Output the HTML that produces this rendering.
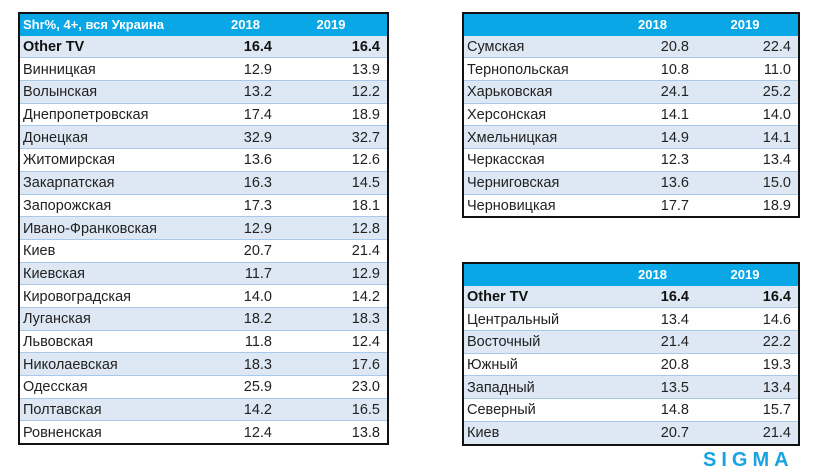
<!DOCTYPE html>
<html><head><meta charset="utf-8"><style>
body{margin:0;width:820px;height:476px;background:#fff;position:relative;overflow:hidden;font-family:"Liberation Sans","DejaVu Sans",sans-serif;}
table{position:absolute;border-collapse:collapse;border:2px solid #111;table-layout:fixed;}
td{height:19.7px;padding:2px 7px 0 3px;font-size:14.5px;color:#222;border-bottom:1px solid #a9c9e8;white-space:nowrap;overflow:hidden;line-height:19px;vertical-align:middle}
td.n{text-align:right}
tr.h td{background:#0aa7e6;color:#fff;font-weight:bold;font-size:13px;border-bottom:none;padding-top:0;height:21.7px}
tr.h td.y{text-align:center}
tr.s td{background:#dde8f4}
tr.b td{font-weight:bold;color:#111}
#logo{position:absolute;left:703px;top:449px;font-size:20px;font-weight:bold;color:#1aa3e3;letter-spacing:5px}
</style></head><body>
<table style="left:18px;top:12px;width:369px">
<colgroup><col style="width:190px"><col style="width:70px"><col style="width:109px"></colgroup>
<tr class="h"><td>Shr%, 4+, вся Украина</td><td class="y" style="padding-left:10px">2018</td><td class="y">2019</td></tr>
<tr class="s b"><td>Other TV</td><td class="n">16.4</td><td class="n">16.4</td></tr>
<tr><td>Винницкая</td><td class="n">12.9</td><td class="n">13.9</td></tr>
<tr class="s"><td>Волынская</td><td class="n">13.2</td><td class="n">12.2</td></tr>
<tr><td>Днепропетровская</td><td class="n">17.4</td><td class="n">18.9</td></tr>
<tr class="s"><td>Донецкая</td><td class="n">32.9</td><td class="n">32.7</td></tr>
<tr><td>Житомирская</td><td class="n">13.6</td><td class="n">12.6</td></tr>
<tr class="s"><td>Закарпатская</td><td class="n">16.3</td><td class="n">14.5</td></tr>
<tr><td>Запорожская</td><td class="n">17.3</td><td class="n">18.1</td></tr>
<tr class="s"><td>Ивано-Франковская</td><td class="n">12.9</td><td class="n">12.8</td></tr>
<tr><td>Киев</td><td class="n">20.7</td><td class="n">21.4</td></tr>
<tr class="s"><td>Киевская</td><td class="n">11.7</td><td class="n">12.9</td></tr>
<tr><td>Кировоградская</td><td class="n">14.0</td><td class="n">14.2</td></tr>
<tr class="s"><td>Луганская</td><td class="n">18.2</td><td class="n">18.3</td></tr>
<tr><td>Львовская</td><td class="n">11.8</td><td class="n">12.4</td></tr>
<tr class="s"><td>Николаевская</td><td class="n">18.3</td><td class="n">17.6</td></tr>
<tr><td>Одесская</td><td class="n">25.9</td><td class="n">23.0</td></tr>
<tr class="s"><td>Полтавская</td><td class="n">14.2</td><td class="n">16.5</td></tr>
<tr><td>Ровненская</td><td class="n">12.4</td><td class="n">13.8</td></tr>
</table>
<table style="left:462px;top:12px;width:336px">
<colgroup><col style="width:150px"><col style="width:83px"><col style="width:103px"></colgroup>
<tr class="h"><td></td><td class="y">2018</td><td class="y">2019</td></tr>
<tr class="s"><td>Сумская</td><td class="n">20.8</td><td class="n">22.4</td></tr>
<tr><td>Тернопольская</td><td class="n">10.8</td><td class="n">11.0</td></tr>
<tr class="s"><td>Харьковская</td><td class="n">24.1</td><td class="n">25.2</td></tr>
<tr><td>Херсонская</td><td class="n">14.1</td><td class="n">14.0</td></tr>
<tr class="s"><td>Хмельницкая</td><td class="n">14.9</td><td class="n">14.1</td></tr>
<tr><td>Черкасская</td><td class="n">12.3</td><td class="n">13.4</td></tr>
<tr class="s"><td>Черниговская</td><td class="n">13.6</td><td class="n">15.0</td></tr>
<tr><td>Черновицкая</td><td class="n">17.7</td><td class="n">18.9</td></tr>
</table>
<table style="left:462px;top:262px;width:336px">
<colgroup><col style="width:150px"><col style="width:83px"><col style="width:103px"></colgroup>
<tr class="h"><td></td><td class="y">2018</td><td class="y">2019</td></tr>
<tr class="s b"><td>Other TV</td><td class="n">16.4</td><td class="n">16.4</td></tr>
<tr><td>Центральный</td><td class="n">13.4</td><td class="n">14.6</td></tr>
<tr class="s"><td>Восточный</td><td class="n">21.4</td><td class="n">22.2</td></tr>
<tr><td>Южный</td><td class="n">20.8</td><td class="n">19.3</td></tr>
<tr class="s"><td>Западный</td><td class="n">13.5</td><td class="n">13.4</td></tr>
<tr><td>Северный</td><td class="n">14.8</td><td class="n">15.7</td></tr>
<tr class="s"><td>Киев</td><td class="n">20.7</td><td class="n">21.4</td></tr>
</table>
<div id="logo">SIGMA</div>
</body></html>
